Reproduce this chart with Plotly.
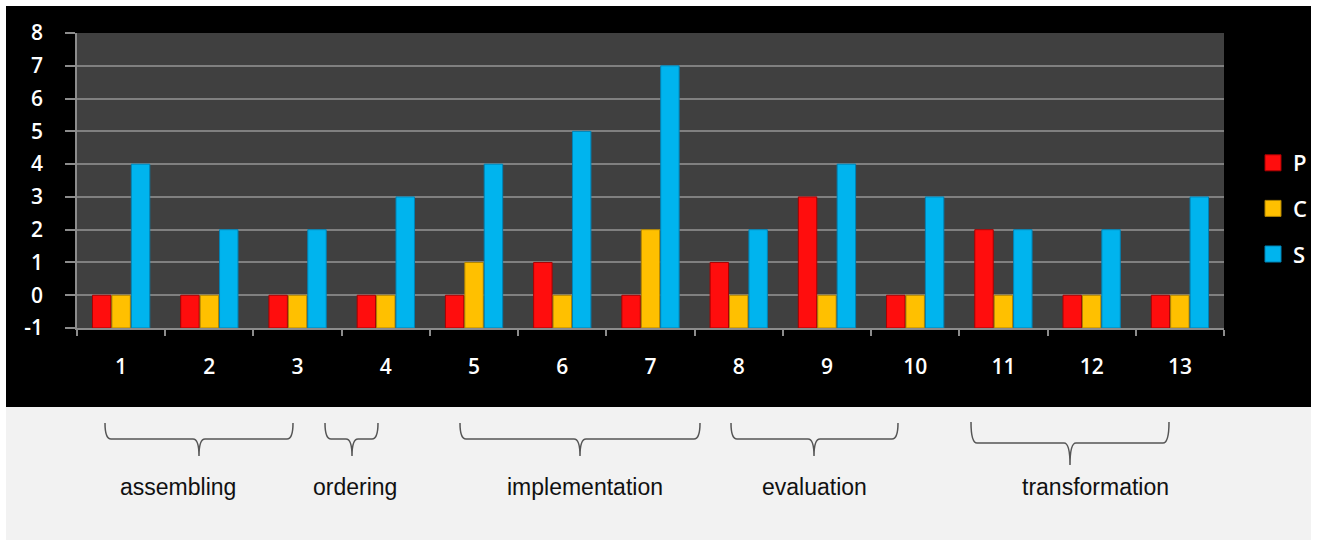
import plotly.graph_objects as go

# ---- data -------------------------------------------------------------
categories = [str(i) for i in range(1, 14)]
p_values = [0, 0, 0, 0, 0, 1, 0, 1, 3, 0, 2, 0, 0]
c_values = [0, 0, 0, 0, 1, 0, 2, 0, 0, 0, 0, 0, 0]
s_values = [4, 2, 2, 3, 4, 5, 7, 2, 4, 3, 2, 2, 3]
series_names = ["P", "C", "S"]
series_colors = ["#ff0d0d", "#ffc000", "#00b4ee"]
series_edges = ["#a80000", "#b08400", "#0082b4"]

y_tick_values = [-1, 0, 1, 2, 3, 4, 5, 6, 7, 8]
y_tick_text = ["-1", "0", "1", "2", "3", "4", "5", "6", "7", "8"]

group_labels = ["assembling", "ordering", "implementation", "evaluation", "transformation"]

Y_MIN, Y_MAX = -1, 8

# ---- canvas geometry (pixels) ----------------------------------------
W, H = 1317, 541
PX0, PX1 = 77, 1224   # plot area left / right
PY0, PY1 = 33, 328    # plot area top / bottom


def px(x):
    return (x - PX0) / (PX1 - PX0)


def py(y):
    return (PY1 - y) / (PY1 - PY0)


fig = go.Figure()

for name, vals, col, edge in zip(series_names, [p_values, c_values, s_values],
                                 series_colors, series_edges):
    # bars rise from the bottom of the axis (-1)
    fig.add_trace(go.Bar(
        x=categories,
        y=[v - Y_MIN for v in vals],
        base=Y_MIN,
        name=name,
        marker=dict(color=col, line=dict(color=edge, width=1)),
        showlegend=False,
    ))
    # legend swatch
    fig.add_trace(go.Scatter(
        x=[None], y=[None], mode="markers", name=name,
        marker=dict(symbol="square", size=16, color=col,
                    line=dict(color=edge, width=1)),
        legendgroup=name,
    ))

shapes = [
    # dark chart panel
    dict(type="rect", xref="paper", yref="paper", layer="below",
         x0=px(6), x1=px(1311), y0=py(407), y1=py(6),
         fillcolor="#000000", line=dict(width=0)),
    # plot area
    dict(type="rect", xref="paper", yref="paper", layer="below",
         x0=0, x1=1, y0=0, y1=1,
         fillcolor="#404040", line=dict(width=0)),
    # light strip underneath
    dict(type="rect", xref="paper", yref="paper", layer="below",
         x0=px(6), x1=px(1311), y0=py(540), y1=py(407),
         fillcolor="#f2f2f2", line=dict(width=0)),
]

# braces: (left, right, centre, top, line, tip) in pixels
braces = [
    (105, 293, 199, 423, 439, 456),
    (325, 378, 352, 423, 439, 456),
    (460, 700, 580, 423, 439, 456),
    (731, 898, 814, 423, 439, 456),
    (971, 1169, 1070, 422, 443, 465),
]
label_pos = [(178, 487), (355, 487), (585, 487), (814, 487), (1095, 487)]


def brace_path(x0, x1, cx, top, line, tip):
    r = 6
    pts = [
        ("M", [(x0, top)]),
        ("Q", [(x0, line), (x0 + r, line)]),
        ("L", [(cx - r, line)]),
        ("Q", [(cx, line), (cx, tip)]),
        ("Q", [(cx, line), (cx + r, line)]),
        ("L", [(x1 - r, line)]),
        ("Q", [(x1, line), (x1, top)]),
    ]
    out = []
    for cmd, coords in pts:
        out.append(cmd + " ".join(f"{px(a):.5f},{py(b):.5f}" for a, b in coords))
    return " ".join(out)


for b in braces:
    shapes.append(dict(type="path", xref="paper", yref="paper",
                       path=brace_path(*b),
                       line=dict(color="#555555", width=1.5)))

annotations = []
for text, (x, y) in zip(group_labels, label_pos):
    annotations.append(dict(
        text=text, x=px(x), y=py(y), xref="paper", yref="paper",
        xanchor="center", yanchor="middle", showarrow=False,
        font=dict(family="Liberation Sans, Arial", size=23, color="#111111"),
    ))

fig.update_layout(
    width=W, height=H,
    margin=dict(l=PX0, r=W - PX1, t=PY0, b=H - PY1, pad=0, autoexpand=False),
    paper_bgcolor="#ffffff",
    plot_bgcolor="#404040",
    barmode="group",
    bargap=0.34,
    bargroupgap=0.05,
    shapes=shapes,
    annotations=annotations,
    font=dict(family="Open Sans, Noto Sans, sans-serif", color="#ffffff"),
    legend=dict(
        x=px(1253), y=py(142), xanchor="left", yanchor="top",
        bgcolor="rgba(0,0,0,0)", font=dict(size=22, color="#ffffff", weight=600),
        tracegroupgap=14, itemclick=False,
    ),
    showlegend=True,
)

fig.update_xaxes(
    type="category",
    showgrid=False,
    showline=True, linecolor="#8c8c8c", linewidth=1.5,
    ticks="outside", tickson="boundaries", ticklen=6, tickcolor="#8c8c8c",
    tickwidth=1.5,
    tickfont=dict(size=21, color="#ffffff", weight=600),
    ticklabelstandoff=19,
)
fig.update_yaxes(
    range=[Y_MIN, Y_MAX],
    tickmode="array", tickvals=y_tick_values, ticktext=y_tick_text,
    showgrid=True, gridcolor="#808080", gridwidth=1.5,
    zeroline=False,
    showline=True, linecolor="#8c8c8c", linewidth=1.5,
    ticks="outside", ticklen=10, tickcolor="#8c8c8c", tickwidth=1.5,
    tickfont=dict(size=21, color="#ffffff", weight=600),
    ticklabelstandoff=18,
)

fig.write_html("out.html")
